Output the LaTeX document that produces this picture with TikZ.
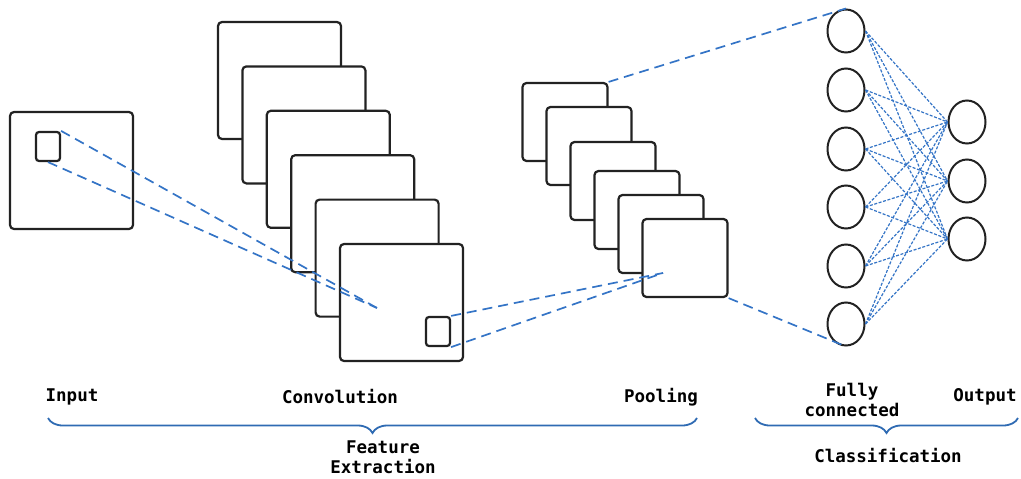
\documentclass[tikz,border=0pt]{standalone}
\usepackage{fontspec}
\setmonofont{DejaVu Sans Mono}
\usepackage{tikz}
\usetikzlibrary{positioning,shapes.geometric,decorations.pathreplacing}
\definecolor{netblue}{HTML}{3474C6}
\definecolor{braceblue}{HTML}{2F6BB3}
\definecolor{edge}{HTML}{222222}

\begin{document}
\begin{tikzpicture}[
  x=1pt,y=-1pt,
  fmap/.style={draw=edge,line width=2.2pt,rounded corners=4pt,fill=white,
               inner sep=0pt,minimum width=123pt,minimum height=117pt},
  pmap/.style={fmap,minimum width=85pt,minimum height=78pt},
  kernel/.style={fmap,rounded corners=3pt,minimum width=24pt,minimum height=29pt},
  neuron/.style={draw=edge,line width=2pt,ellipse,inner sep=0pt,
                 minimum width=37pt,minimum height=43pt},
  proj/.style={draw=netblue,line width=1.7pt,dash pattern=on 10pt off 6pt},
  link/.style={draw=netblue,line width=1.2pt,dash pattern=on 3pt off 1.6pt},
  bracket/.style={draw=braceblue,line width=1.8pt,decorate,
                  decoration={brace,mirror,amplitude=15pt}},
  stagetext/.style={font=\ttfamily\bfseries\fontsize{17.5}{20}\selectfont,align=center}
]
\useasboundingbox (0,0) rectangle (1021,479);

% input image
\node[fmap] (input) at (71.5,170.5) {};
\node[kernel] (inK) at (48,146.5) {};

% convolution maps
\node[fmap] (conv1) at (279.5,80.5) {};
\node[fmap] (conv2) at (303.9,124.9) {};
\node[fmap] (conv3) at (328.3,169.3) {};
\node[fmap] (conv4) at (352.7,213.7) {};
\node[fmap] (conv5) at (377.1,258.1) {};
\node[fmap] (conv6) at (401.5,302.5) {};
\node[kernel] (convK) at (438,331.5) {};

% pooling maps
\node[pmap] (pool1) at (565,122) {};
\node[pmap] (pool2) at (589,146) {};
\node[pmap] (pool3) at (613,181) {};
\node[pmap] (pool4) at (637,210) {};
\node[pmap] (pool5) at (661,234) {};
\node[pmap] (pool6) at (685,258) {};

% fully connected and output layers
\foreach \i/\y in {1/31,2/90,3/149,4/207,5/266,6/324}
  \node[neuron] (fc\i) at (846,\y) {};
\foreach \j/\y in {1/122,2/181,3/239}
  \node[neuron] (out\j) at (967,\y) {};

% receptive field projections
\coordinate (inFocus) at (377,308);
\coordinate (poolFocus) at (663,273);
\draw[proj] (inK.north east) -- (inFocus);
\draw[proj] (inK.south) -- (inFocus);
\draw[proj] (convK.north east) -- (poolFocus);
\draw[proj] (convK.south east) -- (poolFocus);
\draw[proj] (pool1.north east) -- (fc1.north);
\draw[proj] (pool6.south east) -- (fc6.south);

\foreach \i in {1,...,6}
  \foreach \j in {1,2,3}
    \draw[link] (fc\i.east) -- (out\j.west);

% stage labels
\node[stagetext] (lblInput) at (72,397) {Input};
\node[stagetext] (lblConv) at (340,397) {Convolution};
\node[stagetext] (lblPool) at (661,397) {Pooling};
\node[stagetext] (lblFc) at (852,400) {Fully\\connected};
\node[stagetext] (lblOut) at (985,397) {Output};

% groups
\coordinate (featL) at (48,418);
\coordinate (featR) at (697,418);
\coordinate (clsL) at (755,418);
\coordinate (clsR) at (1018,418);
\draw[bracket] (featL) -- (featR);
\draw[bracket] (clsL) -- (clsR);
\node[stagetext] (lblFeat) at (383,457) {Feature\\Extraction};
\node[stagetext] (lblCls) at (888,456) {Classification};
\end{tikzpicture}
\end{document}
